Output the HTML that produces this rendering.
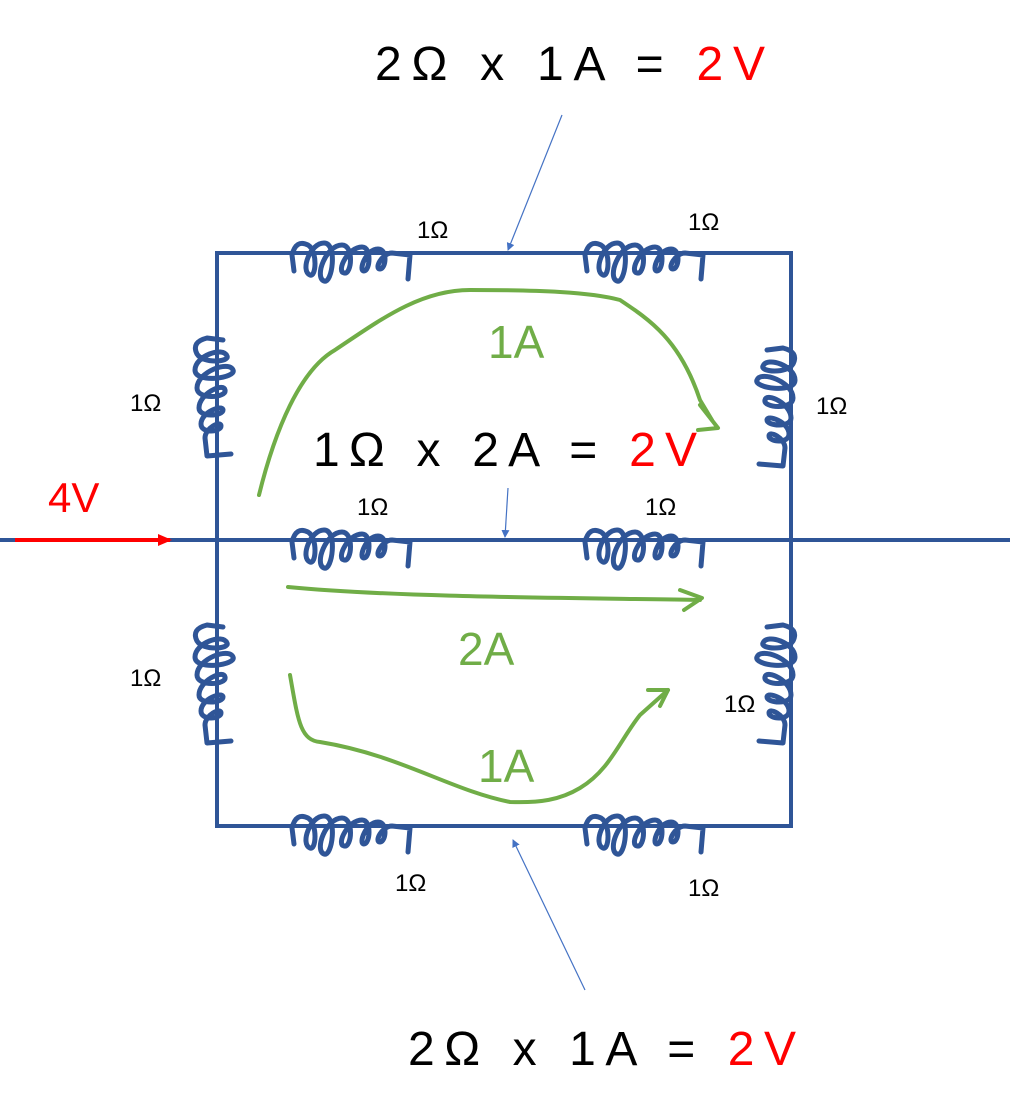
<!DOCTYPE html>
<html><head><style>body{margin:0;background:#fff}svg{display:block}</style></head><body>
<svg width="1012" height="1117" viewBox="0 0 1012 1117" xmlns="http://www.w3.org/2000/svg" font-family="Liberation Sans, DejaVu Sans, sans-serif">
<defs>
<g id="coil" fill="none" stroke="#2f5597" stroke-width="5" stroke-linecap="round" stroke-linejoin="round">
<path d="M2,18 L0,2 Q4,-14 16,-8 C26,-2 24,25 18,22 C8,18 18,-10 32,-10 C46,-10 40,32 32,28 C22,24 34,-8 50,-8 C62,-8 60,22 52,20 C44,18 56,-6 70,-6 C80,-6 78,18 72,18 C66,18 74,-4 86,-4 C96,-4 94,16 88,16 C82,16 90,0 100,0 L118,2 L116,26"/>
</g>
<marker id="ab" markerWidth="8" markerHeight="8" refX="7" refY="4" orient="auto" markerUnits="userSpaceOnUse"><path d="M0,0 L8,4 L0,8z" fill="#4472c4"/></marker>
<marker id="ar" markerWidth="14" markerHeight="12" refX="12" refY="6" orient="auto" markerUnits="userSpaceOnUse"><path d="M0,0 L14,6 L0,12z" fill="#f00"/></marker>
</defs>
<g fill="none" stroke="#2f5597" stroke-width="4">
<rect x="217" y="253" width="574" height="573"/>
<line x1="0" y1="540" x2="1010" y2="540"/>
</g>
<use href="#coil" transform="translate(292,253)"/>
<use href="#coil" transform="translate(585,253)"/>
<use href="#coil" transform="translate(292,540)"/>
<use href="#coil" transform="translate(585,540)"/>
<use href="#coil" transform="translate(292,826)"/>
<use href="#coil" transform="translate(585,826)"/>
<use href="#coil" transform="translate(205,338) rotate(90) scale(1,-1)"/>
<use href="#coil" transform="translate(205,625) rotate(90) scale(1,-1)"/>
<use href="#coil" transform="translate(785,348) rotate(90)"/>
<use href="#coil" transform="translate(785,625) rotate(90)"/>
<line x1="15" y1="540" x2="170" y2="540" stroke="#f00" stroke-width="4" marker-end="url(#ar)"/>
<g stroke="#4472c4" stroke-width="1.2" marker-end="url(#ab)">
<line x1="562" y1="115" x2="508" y2="250"/>
<line x1="508" y1="488" x2="505" y2="537"/>
<line x1="585" y1="990" x2="513" y2="840"/>
</g>
<g fill="none" stroke="#70ad47" stroke-width="4" stroke-linecap="round" stroke-linejoin="round">
<path d="M259,495 C275,430 300,370 335,350 C380,320 420,290 470,290 C540,290 590,292 620,300 C650,320 680,340 700,400 L712,420"/>
<path d="M700,405 L718,428 L698,430"/>
<path d="M288,587 C400,598 600,598 700,600"/>
<path d="M680,590 L702,598 L684,610"/>
<path d="M290,675 C298,720 300,740 320,742 C400,755 450,790 510,802 C540,803 560,800 580,788 C610,770 620,740 640,715 L668,690"/>
<path d="M648,690 L668,690 L660,706"/>
</g>
<g font-size="48" text-anchor="start">
<text x="375" y="80" textLength="390" lengthAdjust="spacing">2Ω x 1A = <tspan fill="#f00">2V</tspan></text>
<text x="313" y="466" textLength="384" lengthAdjust="spacing">1Ω x 2A = <tspan fill="#f00">2V</tspan></text>
<text x="408" y="1065" textLength="388" lengthAdjust="spacing">2Ω x 1A = <tspan fill="#f00">2V</tspan></text>
</g>
<text x="48" y="512" font-size="42" fill="#f00">4V</text>
<g font-size="46" fill="#70ad47">
<text x="488" y="358">1A</text>
<text x="458" y="665">2A</text>
<text x="478" y="782">1A</text>
</g>
<g font-size="24">
<text x="417" y="238">1Ω</text>
<text x="688" y="230">1Ω</text>
<text x="130" y="411">1Ω</text>
<text x="816" y="414">1Ω</text>
<text x="357" y="515">1Ω</text>
<text x="645" y="515">1Ω</text>
<text x="130" y="686">1Ω</text>
<text x="724" y="712">1Ω</text>
<text x="395" y="891">1Ω</text>
<text x="688" y="896">1Ω</text>
</g>
</svg>
</body></html>
